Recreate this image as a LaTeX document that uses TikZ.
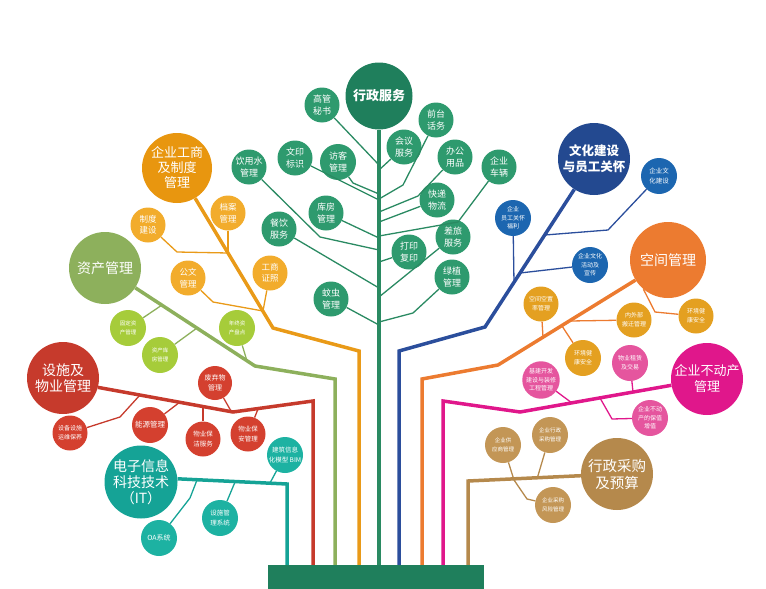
\documentclass[tikz,border=0pt]{standalone}
\usepackage{fontspec}
\setmainfont{Noto Sans CJK SC}
\usetikzlibrary{calc}
\definecolor{xzD}{HTML}{1F7F5C}
\definecolor{xzL}{HTML}{2E9A6E}
\definecolor{xzLn}{HTML}{2A8A62}
\definecolor{gsD}{HTML}{E8960F}
\definecolor{gsL}{HTML}{F2AC2C}
\definecolor{gsLn}{HTML}{E99A18}
\definecolor{zcD}{HTML}{8DB05C}
\definecolor{zcL}{HTML}{A6CC3A}
\definecolor{ssD}{HTML}{C63A2C}
\definecolor{ssL}{HTML}{D4402F}
\definecolor{itD}{HTML}{15A396}
\definecolor{itL}{HTML}{1DB2A2}
\definecolor{whD}{HTML}{234990}
\definecolor{whL}{HTML}{1C66B0}
\definecolor{whLn}{HTML}{2B4E9C}
\definecolor{kjD}{HTML}{EC7B30}
\definecolor{kjL}{HTML}{E4A021}
\definecolor{bdD}{HTML}{E0178B}
\definecolor{bdL}{HTML}{E5559E}
\definecolor{cgD}{HTML}{B5894C}
\definecolor{cgL}{HTML}{C39656}
\newcommand\fsz[2]{\fontsize{#1}{#2}\selectfont}
\tikzset{
  hub/.style={circle, inner sep=0pt, text=white, align=center, minimum size=72pt, font=\fsz{13}{15}},
  leaf/.style={circle, inner sep=0pt, text=white, align=center, minimum size=35pt},
  limb/.style={line width=3.5pt},
  twig/.style={line width=1.3pt},
}
\begin{document}
\begin{tikzpicture}[x=1pt,y=-1pt]
\useasboundingbox (0,0) rectangle (766,589);

% pot
\node[fill=xzD, minimum width=216pt, minimum height=24pt, inner sep=0pt] (pot) at (376,577) {};

% main branches
\node[hub, fill=xzD, minimum size=67pt, font=\bfseries\fsz{13}{15}] (xz) at (379,96) {行政服务};
\node[hub, fill=gsD, minimum size=70pt] (gs) at (177,168) {企业工商\\及制度\\管理};
\node[hub, fill=zcD, font=\fsz{14}{16}] (zc) at (105,268) {资产管理};
\node[hub, fill=ssD, font=\fsz{14}{16}] (ss) at (63,378) {设施及\\物业管理};
\node[hub, fill=itD, minimum size=73pt, font=\fsz{14}{16}] (it) at (141,482) {电子信息\\科技技术\\（IT）};
\node[hub, fill=whD, font=\bfseries\fsz{12.5}{16}] (wh) at (594,159) {文化建设\\与员工关怀};
\node[hub, fill=kjD, minimum size=76pt, font=\fsz{14}{16}] (kj) at (668,260) {空间管理};
\node[hub, fill=bdD, font=\fsz{13}{16}] (bd) at (707,379) {企业不动产\\管理};
\node[hub, fill=cgD, font=\fsz{14.5}{17}] (cg) at (617,474) {行政采购\\及预算};

% green leaves
\tikzset{gleaf/.style={leaf, fill=xzL, font=\fsz{9}{11.5}}}
\node[gleaf] (g1) at (322,105) {高管\\秘书};
\node[gleaf] (g2) at (436,120) {前台\\话务};
\node[gleaf] (g3) at (404,147) {会议\\服务};
\node[gleaf] (g4) at (455,157) {办公\\用品};
\node[gleaf] (g5) at (499,167) {企业\\车辆};
\node[gleaf, minimum size=36pt] (g6) at (338,162) {访客\\管理};
\node[gleaf] (g7) at (295,158) {文印\\标识};
\node[gleaf] (g8) at (249,167) {饮用水\\管理};
\node[gleaf] (g9) at (437,200) {快递\\物流};
\node[gleaf] (g10) at (326,213) {库房\\管理};
\node[gleaf] (g11) at (279,229) {餐饮\\服务};
\node[gleaf] (g12) at (453,237) {差旅\\服务};
\node[gleaf] (g13) at (409,252) {打印\\复印};
\node[gleaf] (g14) at (452,277) {绿植\\管理};
\node[gleaf] (g15) at (331,299) {蚊虫\\管理};

% yellow leaves
\tikzset{yleaf/.style={leaf, fill=gsL, font=\fsz{8.5}{11.5}}}
\node[yleaf] (y1) at (148,225) {制度\\建设};
\node[yleaf] (y2) at (228,213) {档案\\管理};
\node[yleaf] (y3) at (188,278) {公文\\管理};
\node[yleaf] (y4) at (270,273) {工商\\证照};

% lime leaves
\tikzset{zleaf/.style={leaf, fill=zcL, minimum size=36pt, font=\fsz{5.5}{8.5}}}
\node[zleaf] (z1) at (128,328) {固定资\\产管理};
\node[zleaf] (z2) at (160,355) {资产库\\房管理};
\node[zleaf] (z3) at (237,328) {年终资\\产盘点};

% red leaves
\tikzset{rleaf/.style={leaf, fill=ssL, font=\fsz{6.5}{9.5}}}
\node[rleaf, font=\fsz{6}{9}] (r1) at (70,433) {设备设施\\运维保养};
\node[rleaf, minimum size=36pt, font=\fsz{7.5}{9}] (r2) at (150,425) {能源管理};
\node[rleaf, minimum size=34pt, font=\fsz{7}{10}] (r3) at (215,383) {废弃物\\管理};
\node[rleaf] (r4) at (203,439) {物业保\\洁服务};
\node[rleaf] (r5) at (248,434) {物业保\\安管理};

% teal leaves
\tikzset{tleaf/.style={leaf, fill=itL, minimum size=36pt, font=\fsz{6.5}{9.5}}}
\node[tleaf, font=\fsz{7}{9}] (i1) at (159,538) {OA系统};
\node[tleaf] (i2) at (220,518) {设施管\\理系统};
\node[tleaf] (i3) at (285,455) {建筑信息\\化模型 BIM};

% blue leaves
\tikzset{bleaf/.style={leaf, fill=whL, minimum size=36pt, font=\fsz{6}{8.5}}}
\node[bleaf, font=\fsz{6.5}{9.5}] (b1) at (659,176) {企业文\\化建设};
\node[bleaf] (b2) at (513,218) {企业\\员工关怀\\福利};
\node[bleaf] (b3) at (590,265) {企业文化\\活动及\\宣传};

% orange leaves
\tikzset{oleaf/.style={leaf, fill=kjL, font=\fsz{6}{9}}}
\node[oleaf] (k1) at (541,304) {空间空置\\率管理};
\node[oleaf] (k2) at (634,320) {内外部\\搬迁管理};
\node[oleaf] (k3) at (696,316) {环境健\\康安全};
\node[oleaf, minimum size=36pt] (k4) at (583,358) {环境健\\康安全};

% magenta leaves
\tikzset{mleaf/.style={leaf, fill=bdL, minimum size=36pt, font=\fsz{6}{8.5}}}
\node[mleaf] (m1) at (541,380) {基建开发\\建设与装修\\工程管理};
\node[mleaf, font=\fsz{6}{9}] (m2) at (630,363) {物业租赁\\及交易};
\node[mleaf] (m3) at (650,418) {企业不动\\产的保值\\增值};

% brown leaves
\tikzset{cleaf/.style={leaf, fill=cgL, minimum size=36pt, font=\fsz{5.5}{9}}}
\node[cleaf] (c1) at (503,445) {企业供\\应商管理};
\node[cleaf] (c2) at (550,435) {企业行政\\采购管理};
\node[cleaf] (c3) at (553,505) {企业采购\\风险管理};

% trunk and green twigs
\draw[limb, xzLn] (xz) -- (xz |- pot.north);
\foreach \n/\y in {1/165,2/170,3/194,4/199,5/200,6/212,7/222,8/236,9/238,10/250,11/262,12/288,13/297,14/322,15/325}
  \coordinate (t\n) at (379,\y);
\draw[twig, xzLn] (g1) -- (t1);
\draw[twig, xzLn] (g3) -- (t2);
\draw[twig, xzLn] (g6) -- (353,183) -- (t3);
\draw[twig, xzLn] (g2) -- (403,185) -- (t4);
\draw[twig, xzLn] (g7) -- (t5);
\draw[twig, xzLn] (g4) -- (418,196) -- (t6);
\draw[twig, xzLn] (g9) -- (t7);
\draw[twig, xzLn] (g5) -- (458,222) -- (t8);
\draw[twig, xzLn] (g10) -- (t9);
\draw[twig, xzLn] (g8) -- (320,237) -- (t10);
\draw[twig, xzLn] (g13) -- (t11);
\draw[twig, xzLn] (g11) -- (t12);
\draw[twig, xzLn] (g12) -- (t13);
\draw[twig, xzLn] (g14) -- (413,313) -- (t14);
\draw[twig, xzLn] (g15) -- (t15);

% yellow branch
\coordinate (ya) at (273,328);
\coordinate (yb) at (359,351);
\coordinate (yj1) at (228,253);
\coordinate (yj2) at (263,311);
\draw[limb, gsLn] (gs) -- (ya) -- (yb) -- (yb |- pot.north);
\draw[twig, gsLn] (y1) -- (177,252) -- (yj1);
\draw[twig, gsLn] (y2) -- (yj1);
\draw[twig, gsLn] (y3) -- (213,302) -- (yj2);
\draw[twig, gsLn] (y4) -- (yj2);

% lime branch
\coordinate (za) at (255,366);
\coordinate (zb) at (335,379);
\draw[limb, zcD] (zc) -- (za) -- (zb) -- (zb |- pot.north);
\draw[twig, zcD] (z1) -- (162,305);
\draw[twig, zcD] (z2) -- (197,328);
\draw[twig, zcD] (z3) -- (247,361);

% red branch
\coordinate (sa) at (233,412);
\coordinate (sb) at (313,401);
\draw[limb, ssD] (ss.-15) -- (sa) -- (sb) -- (sb |- pot.north);
\draw[twig, ssD] (r1) -- (120,417) -- (140,395);
\draw[twig, ssD] (r2) -- (180,402);
\draw[twig, ssD] (r3) -- (231,411);
\draw[twig, ssD] (r4) -- (203,406);
\draw[twig, ssD] (r5) -- (258,409);

% teal branch
\coordinate (ia) at (287,484);
\draw[limb, itD] (it.5) -- (ia) -- (ia |- pot.north);
\draw[twig, itD] (i1) -- (190,498) -- (197,480);
\draw[twig, itD] (i2) -- (235,482);
\draw[twig, itD] (i3) -- (270,483);

% blue branch
\coordinate (wa) at (485,327);
\coordinate (wb) at (399,351);
\draw[limb, whLn] (wh) -- (wa) -- (wb) -- (wb |- pot.north);
\draw[twig, whLn] (b1) -- (608,230) -- (545,235);
\draw[twig, whLn] (b2) -- (514,283);
\draw[twig, whLn] (b3) -- (520,273);

% orange branch
\coordinate (ka) at (498,365);
\coordinate (kb) at (422,379);
\draw[limb, kjD] (kj) -- (ka) -- (kb) -- (kb |- pot.north);
\draw[twig, kjD] (k1) -- (543,337);
\draw[twig, kjD] (k2) -- (570,321);
\draw[twig, kjD] (kj.230) -- (655,312) -- (k3);
\draw[twig, kjD] (k4) -- (562,326);

% magenta branch
\coordinate (ma) at (520,412);
\coordinate (mb) at (443,401);
\draw[limb, bdD] (bd.190) -- (ma) -- (mb) -- (mb |- pot.north);
\draw[twig, bdD] (m1) -- (572,403);
\draw[twig, bdD] (m2) -- (633,392);
\draw[twig, bdD] (m3) -- (612,419) -- (600,398);

% brown branch
\coordinate (ca) at (468,481);
\coordinate (cj) at (514,480);
\draw[limb, cgD] (cg) -- (ca) -- (ca |- pot.north);
\draw[twig, cgD] (c1) -- (cj);
\draw[twig, cgD] (c2) -- (537,479);
\draw[twig, cgD] (cj) -- (527,499) -- (c3);
\end{tikzpicture}
\end{document}
